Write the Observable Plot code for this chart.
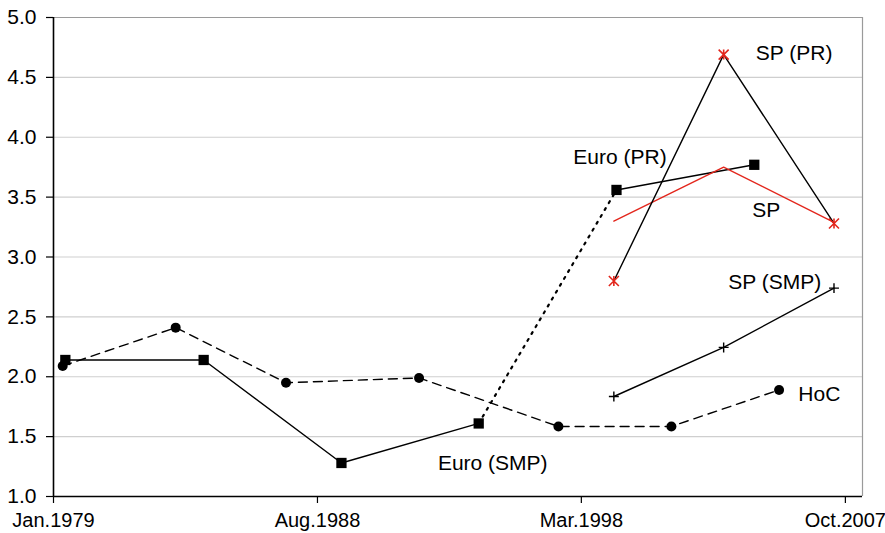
<!DOCTYPE html>
<html><head><meta charset="utf-8">
<script src="https://cdn.jsdelivr.net/npm/d3@7"></script>
<script src="https://cdn.jsdelivr.net/npm/@observablehq/plot@0.6"></script>
<style>body{margin:0;background:#fff;}</style>
</head><body><div id="chart"></div>
<script>
// ---- data ----
const xTickDates = ["1979-01-01", "1988-08-01", "1998-03-01", "2007-10-01"];
const xTickLabels = ["Jan.1979", "Aug.1988", "Mar.1998", "Oct.2007"];
const yTicks = [1.0, 1.5, 2.0, 2.5, 3.0, 3.5, 4.0, 4.5, 5.0];
const xDomain = ["1979-01-01", "2008-05-15"];

const hocDates = ["1979-05-03", "1983-06-09", "1987-06-11", "1992-04-09", "1997-05-01", "2001-06-07", "2005-05-05"];
const hocValues = [2.09, 2.41, 1.95, 1.99, 1.585, 1.585, 1.89];

const euroSmpDates = ["1979-06-07", "1984-06-14", "1989-06-15", "1994-06-09"];
const euroSmpValues = [2.14, 2.14, 1.28, 1.61];

const euroPrDates = ["1999-06-10", "2004-06-10"];
const euroPrValues = [3.56, 3.77];

const spDates = ["1999-05-06", "2003-05-01", "2007-05-03"];
const spPrValues = [2.80, 4.69, 3.28];
const spValues = [3.30, 3.75, 3.29];
const spSmpValues = [1.835, 2.245, 2.74];

const labelTexts = ["SP (PR)", "Euro (PR)", "SP", "SP (SMP)", "HoC", "Euro (SMP)"];
const labelDates = ["2004-07-01", "1997-11-15", "2004-05-15", "2003-07-01", "2006-01-15", "1992-12-15"];
const labelValues = [4.70, 3.83, 3.39, 2.79, 1.85, 1.28];

// ---- build ----
const parse = d3.utcParse("%Y-%m-%d");
const rows = (dates, values) => dates.map((d, i) => ({date: parse(d), value: values[i]}));
const hoc = rows(hocDates, hocValues);
const euroSmp = rows(euroSmpDates, euroSmpValues);
const euroPr = rows(euroPrDates, euroPrValues);
const euroLink = [euroSmp[euroSmp.length - 1], euroPr[0]];
const spPr = rows(spDates, spPrValues);
const sp = rows(spDates, spValues);
const spSmp = rows(spDates, spSmpValues);
const labels = labelTexts.map((t, i) => ({text: t, date: parse(labelDates[i]), value: labelValues[i]}));
const tickDates = xTickDates.map(parse);
const domain = xDomain.map(parse);

const starSymbol = {
  draw(ctx, size) {
    const r = Math.sqrt(size / Math.PI);
    ctx.moveTo(-r, -r); ctx.lineTo(r, r);
    ctx.moveTo(-r, r); ctx.lineTo(r, -r);
    ctx.moveTo(0, -r); ctx.lineTo(0, r);
  }
};

const RED = "#e3261c";

const chart = Plot.plot({
  width: 885,
  height: 533,
  marginLeft: 53,
  marginRight: 23,
  marginTop: 17,
  marginBottom: 37,
  style: {fontFamily: "'Liberation Sans', Arial, sans-serif", fontSize: "20px", color: "#000", background: "#fff"},
  x: {type: "utc", domain},
  y: {domain: [1, 5]},
  marks: [
    Plot.ruleY(yTicks.filter(v => v > 1 && v < 5), {stroke: "#cfcfcf", strokeWidth: 1.2}),
    Plot.ruleY([5], {stroke: "#9a9a9a", strokeWidth: 1.2}),
    Plot.ruleX([domain[1]], {stroke: "#9a9a9a", strokeWidth: 1.2}),
    Plot.axisY({ticks: yTicks, tickSize: 7, tickPadding: 10, tickFormat: d3.format(".1f"), label: null, strokeWidth: 1.2, fontSize: 21}),
    Plot.axisX({ticks: tickDates, tickSize: 7, tickPadding: 9, tickFormat: d => xTickLabels[tickDates.findIndex(t => +t === +d)], label: null, strokeWidth: 1.2, fontSize: 20}),
    Plot.ruleX([domain[0]], {stroke: "#000", strokeWidth: 1.6}),
    Plot.ruleY([1], {stroke: "#000", strokeWidth: 1.6}),

    // HoC dashed
    Plot.line(hoc, {x: "date", y: "value", stroke: "#000", strokeWidth: 1.4, strokeDasharray: "9,6"}),
    Plot.dot(hoc, {x: "date", y: "value", r: 5, fill: "#000", symbol: "circle"}),

    // Euro SMP / link / PR
    Plot.line(euroSmp, {x: "date", y: "value", stroke: "#000", strokeWidth: 1.4}),
    Plot.line(euroLink, {x: "date", y: "value", stroke: "#000", strokeWidth: 2.2, strokeDasharray: "2,6"}),
    Plot.line(euroPr, {x: "date", y: "value", stroke: "#000", strokeWidth: 1.4}),
    Plot.dot(euroSmp.concat(euroPr), {x: "date", y: "value", r: 5.8, fill: "#000", symbol: "square"}),

    // SP lines
    Plot.line(spSmp, {x: "date", y: "value", stroke: "#000", strokeWidth: 1.4}),
    Plot.dot(spSmp, {x: "date", y: "value", r: 3.3, fill: "none", stroke: "#000", strokeWidth: 1.4, symbol: "plus"}),
    Plot.line(sp, {x: "date", y: "value", stroke: RED, strokeWidth: 1.4}),
    Plot.line(spPr, {x: "date", y: "value", stroke: "#000", strokeWidth: 1.4}),
    Plot.dot(spPr, {x: "date", y: "value", r: 5, fill: "none", stroke: RED, strokeWidth: 1.6, symbol: starSymbol}),

    // labels
    Plot.text(labels, {x: "date", y: "value", text: "text", textAnchor: "start", fill: "#000", fontSize: 21})
  ]
});
document.getElementById("chart").appendChild(chart);
</script>
</body></html>
